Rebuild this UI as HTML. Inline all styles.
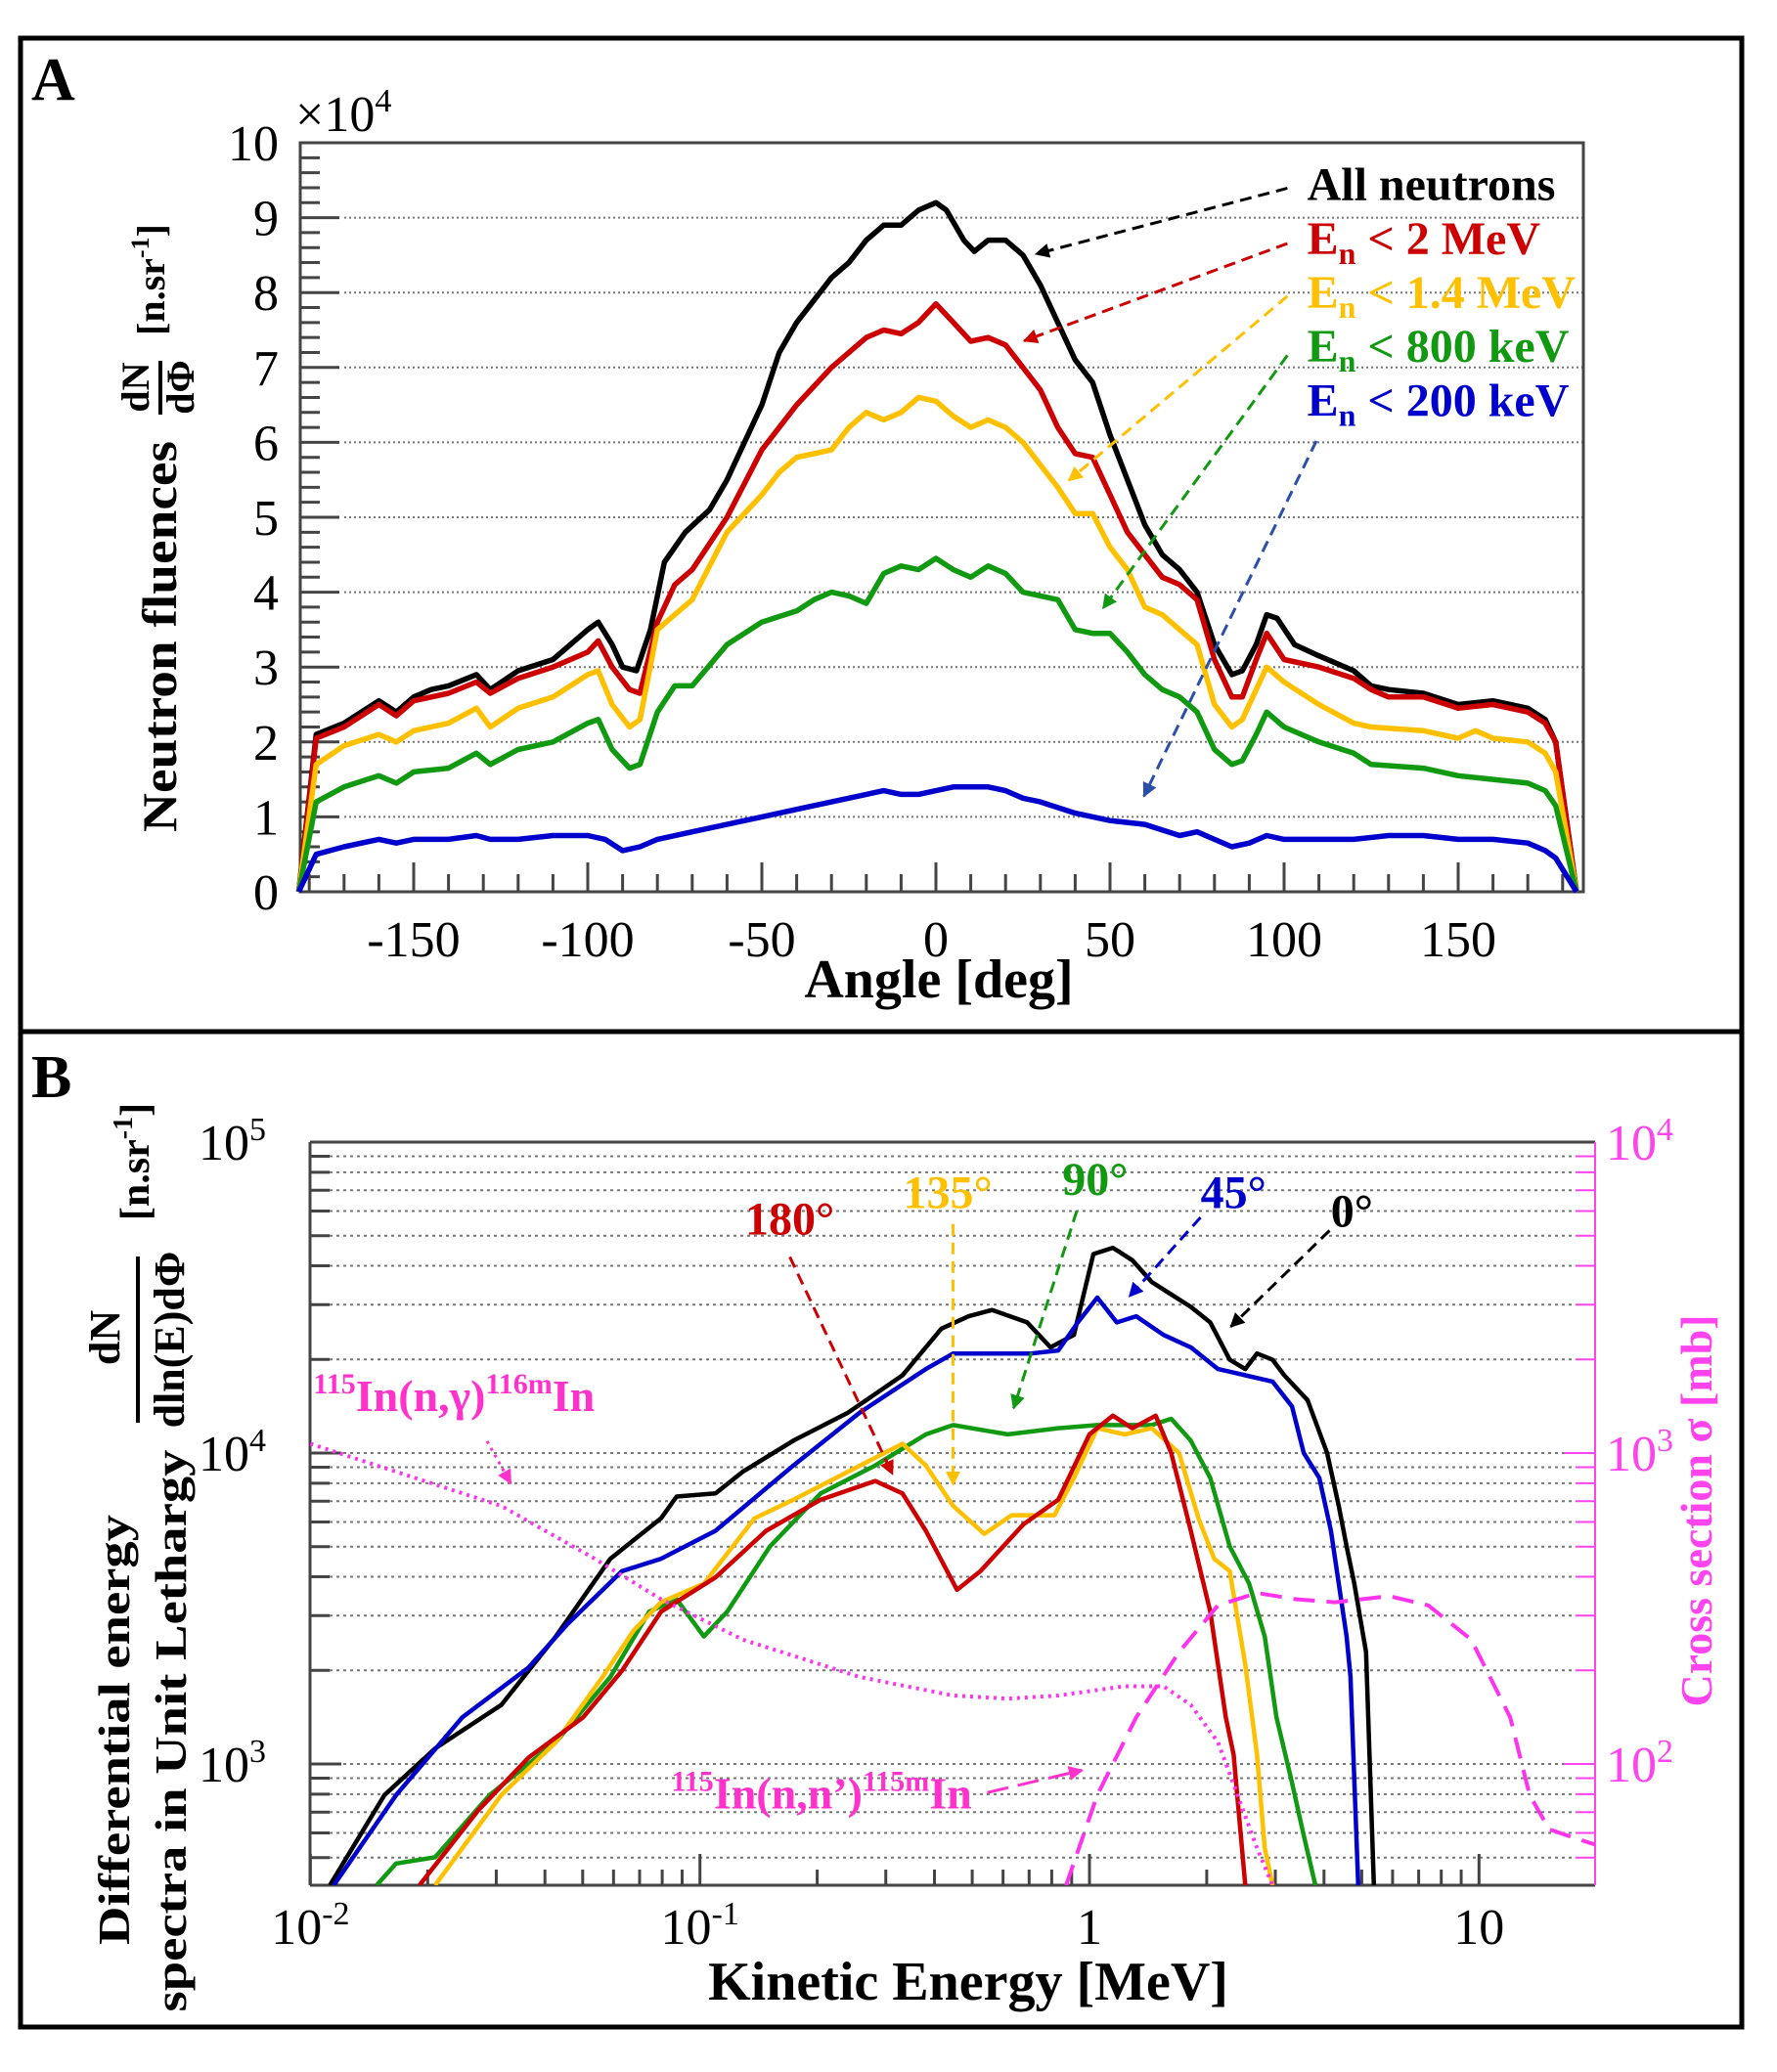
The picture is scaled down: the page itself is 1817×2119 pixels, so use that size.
<!DOCTYPE html>
<html><head><meta charset="utf-8">
<style>
html,body{margin:0;padding:0;background:#fff;}
svg{display:block;font-family:"Liberation Serif",serif;}
</style></head>
<body>
<svg id="fig" width="1817" height="2119" viewBox="0 0 1817 2119" xmlns="http://www.w3.org/2000/svg">
<rect x="0" y="0" width="1817" height="2119" fill="#fff"/>
<rect x="21" y="39" width="1760" height="1016" fill="none" stroke="#000" stroke-width="5"/>
<rect x="21" y="1055" width="1760" height="1018" fill="none" stroke="#000" stroke-width="5"/>
<g id="A"></g>
<g id="B"></g>
</svg>
<script>
// ---------- Panel A data (units of 1e4) ----------
const angBlack=[-183,-178,-170,-160,-155,-150,-145,-140,-132,-128,-120,-110,-100,-97,-93,-90,-86,-82,-78,-72,-65,-60,-50,-45,-40,-35,-30,-25,-20,-15,-10,-5,0,3,8,11,15,20,25,30,35,40,45,50,55,60,65,70,75,80,85,88,92,95,98,103,110,120,125,130,140,150,160,170,175,178,184];
const valBlack=[0,2.1,2.25,2.55,2.4,2.6,2.7,2.75,2.9,2.7,2.95,3.1,3.5,3.6,3.3,3.0,2.95,3.5,4.4,4.8,5.1,5.5,6.5,7.2,7.6,7.9,8.2,8.4,8.7,8.9,8.9,9.1,9.2,9.1,8.7,8.55,8.7,8.7,8.5,8.1,7.6,7.1,6.8,6.1,5.5,4.9,4.5,4.3,4.0,3.3,2.9,2.95,3.3,3.7,3.65,3.3,3.15,2.95,2.75,2.7,2.65,2.5,2.55,2.45,2.3,2.0,0];
const angRed=[-183,-178,-170,-160,-155,-150,-140,-132,-128,-120,-110,-100,-97,-93,-88,-85,-80,-75,-70,-60,-50,-40,-30,-20,-15,-10,-5,0,5,10,15,20,25,30,35,40,45,50,55,60,65,70,75,80,85,88,92,95,100,110,120,125,130,140,150,160,170,175,178,184];
const valRed=[0,2.05,2.2,2.5,2.35,2.55,2.65,2.8,2.65,2.85,3.0,3.2,3.35,3.0,2.7,2.65,3.6,4.1,4.3,5.0,5.9,6.5,7.0,7.4,7.5,7.45,7.6,7.85,7.6,7.35,7.4,7.3,7.0,6.7,6.2,5.85,5.8,5.3,4.8,4.5,4.2,4.1,3.9,3.1,2.6,2.6,3.1,3.45,3.1,3.0,2.85,2.7,2.6,2.6,2.45,2.5,2.4,2.25,2.0,0];
const angYellow=[-183,-178,-170,-160,-155,-150,-140,-132,-128,-120,-110,-100,-97,-93,-88,-85,-80,-75,-70,-60,-50,-45,-40,-35,-30,-25,-20,-15,-10,-5,0,5,10,15,20,25,30,35,40,45,50,55,60,65,70,75,80,85,88,92,95,100,110,120,125,140,150,155,160,170,175,178,184];
const valYellow=[0,1.7,1.95,2.1,2.0,2.15,2.25,2.45,2.2,2.45,2.6,2.9,2.95,2.5,2.2,2.3,3.5,3.7,3.9,4.8,5.3,5.6,5.8,5.85,5.9,6.2,6.4,6.3,6.4,6.6,6.55,6.35,6.2,6.3,6.2,6.0,5.7,5.4,5.05,5.05,4.6,4.3,3.8,3.7,3.5,3.3,2.5,2.2,2.3,2.7,3.0,2.8,2.5,2.25,2.2,2.15,2.05,2.15,2.05,2.0,1.85,1.6,0];
const angGreen=[-183,-178,-170,-160,-155,-150,-140,-132,-128,-120,-110,-100,-97,-93,-88,-85,-80,-75,-70,-60,-50,-40,-35,-30,-25,-20,-15,-10,-5,0,5,10,15,20,25,30,35,40,45,50,55,60,65,70,75,80,85,88,92,95,100,110,120,125,140,150,160,170,175,178,184];
const valGreen=[0,1.2,1.4,1.55,1.45,1.6,1.65,1.85,1.7,1.9,2.0,2.25,2.3,1.9,1.65,1.7,2.4,2.75,2.75,3.3,3.6,3.75,3.9,4.0,3.95,3.85,4.25,4.35,4.3,4.45,4.3,4.2,4.35,4.25,4.0,3.95,3.9,3.5,3.45,3.45,3.2,2.9,2.7,2.6,2.4,1.9,1.7,1.75,2.1,2.4,2.2,2.0,1.85,1.7,1.65,1.55,1.5,1.45,1.35,1.15,0];
const angBlue=[-183,-178,-170,-160,-155,-150,-140,-132,-128,-120,-110,-100,-95,-90,-85,-80,-70,-60,-50,-40,-30,-20,-15,-10,-5,0,5,10,15,20,25,30,40,50,60,70,75,80,85,90,95,100,110,120,130,140,150,160,170,175,178,184];
const valBlue=[0,0.5,0.6,0.7,0.65,0.7,0.7,0.75,0.7,0.7,0.75,0.75,0.7,0.55,0.6,0.7,0.8,0.9,1.0,1.1,1.2,1.3,1.35,1.3,1.3,1.35,1.4,1.4,1.4,1.35,1.25,1.2,1.05,0.95,0.9,0.75,0.8,0.7,0.6,0.65,0.75,0.7,0.7,0.7,0.75,0.75,0.7,0.7,0.65,0.55,0.45,0];
const aXTicks=[-150,-100,-50,0,50,100,150];
const aYTicks=[0,1,2,3,4,5,6,7,8,9,10];

// ---------- Panel B data (log10 E [MeV], log10 value) ----------
const bLogE0=[-1.95,-1.81,-1.68,-1.51,-1.37,-1.23,-1.10,-1.06,-0.96,-0.89,-0.76,-0.62,-0.48,-0.38,-0.31,-0.25,-0.16,-0.10,-0.04,0.01,0.06,0.11,0.16,0.21,0.26,0.31,0.36,0.40,0.43,0.47,0.50,0.56,0.61,0.64,0.66,0.68,0.71,0.73];
const bLogV0=[2.61,2.90,3.05,3.19,3.41,3.66,3.79,3.86,3.87,3.94,4.04,4.13,4.25,4.40,4.44,4.46,4.42,4.34,4.38,4.64,4.66,4.62,4.55,4.51,4.47,4.42,4.30,4.27,4.32,4.30,4.25,4.17,4.00,3.83,3.70,3.58,3.36,2.61];
const bLogE45=[-1.94,-1.78,-1.61,-1.44,-1.34,-1.20,-1.10,-0.96,-0.76,-0.59,-0.42,-0.35,-0.15,-0.08,-0.03,0.02,0.07,0.12,0.19,0.26,0.33,0.40,0.47,0.52,0.55,0.59,0.62,0.66,0.67,0.69];
const bLogV45=[2.61,2.90,3.15,3.31,3.45,3.62,3.66,3.75,3.96,4.13,4.27,4.32,4.32,4.33,4.42,4.50,4.42,4.44,4.38,4.34,4.27,4.25,4.23,4.15,4.00,3.92,3.75,3.41,3.28,2.61];
const bLogE90=[-1.83,-1.78,-1.68,-1.54,-1.37,-1.23,-1.13,-1.06,-0.99,-0.93,-0.82,-0.69,-0.55,-0.42,-0.35,-0.21,-0.08,0.02,0.16,0.21,0.26,0.31,0.36,0.41,0.45,0.48,0.52,0.55,0.58];
const bLogV90=[2.61,2.68,2.70,2.90,3.07,3.28,3.49,3.53,3.41,3.49,3.70,3.87,3.96,4.06,4.09,4.06,4.08,4.09,4.09,4.11,4.04,3.92,3.70,3.58,3.41,3.15,2.94,2.77,2.61];
const bLogE135=[-1.68,-1.51,-1.37,-1.25,-1.17,-1.10,-0.99,-0.86,-0.76,-0.62,-0.48,-0.42,-0.35,-0.27,-0.20,-0.09,-0.04,0.02,0.09,0.16,0.23,0.28,0.32,0.36,0.40,0.43,0.45,0.47];
const bLogV135=[2.61,2.90,3.07,3.28,3.43,3.52,3.58,3.79,3.85,3.94,4.03,3.96,3.83,3.74,3.80,3.80,3.92,4.08,4.06,4.08,4.00,3.79,3.66,3.62,3.32,3.03,2.73,2.61];
const bLogE180=[-1.72,-1.57,-1.44,-1.30,-1.20,-1.10,-0.96,-0.83,-0.69,-0.55,-0.48,-0.42,-0.34,-0.28,-0.17,-0.08,0.00,0.06,0.11,0.17,0.21,0.26,0.31,0.35,0.37,0.40];
const bLogV180=[2.61,2.85,3.02,3.15,3.30,3.49,3.60,3.75,3.85,3.91,3.87,3.75,3.56,3.62,3.77,3.85,4.06,4.12,4.08,4.12,4.00,3.75,3.49,3.15,3.03,2.61];
const xsLogE_ng=[-2.0,-1.78,-1.51,-1.27,-1.10,-0.89,-0.59,-0.35,-0.21,-0.08,0.09,0.19,0.26,0.33,0.38,0.43,0.47];
const xsLogS_ng=[3.03,2.94,2.83,2.66,2.53,2.40,2.28,2.22,2.21,2.22,2.25,2.25,2.19,2.07,1.90,1.73,1.61];
const xsLogE_nn=[-0.06,0.02,0.12,0.23,0.33,0.43,0.53,0.63,0.70,0.77,0.87,0.98,1.08,1.13,1.18,1.25,1.30];
const xsLogS_nn=[1.61,1.90,2.15,2.36,2.51,2.55,2.53,2.52,2.53,2.54,2.51,2.40,2.15,1.90,1.79,1.76,1.74];
const bXDecades=[-2,-1,0,1];
const bXLabels=["10","10","1","10"];
const bXSups=["-2","-1","",""];
const bYDecades=[3,4,5];
const bRDecades=[2,3,4];

const NS="http://www.w3.org/2000/svg";
function mk(parent,tag,attrs,text){const e=document.createElementNS(NS,tag);for(const k in attrs)e.setAttribute(k,attrs[k]);if(text!==undefined)e.textContent=text;parent.appendChild(e);return e;}

// ===== Panel A =====
const A=document.getElementById('A');
const aL=307,aR=1619,aT=146,aB=912;
const ax=a=>957+3.56*a;
const ay=v=>aB-(aB-aT)*v/10;
for(let v=1;v<=9;v++){
 const g=mk(A,'line',{x1:aL+45,x2:aR,y1:ay(v),y2:ay(v),stroke:'#777','stroke-width':2,'stroke-dasharray':'2 3'});
 
 
}
for(let i=0;i<=50;i++){const v=i*0.2;const major=i%5===0;
 const t=mk(A,'line',{x1:aL,x2:aL+(major?40:20),y1:ay(v),y2:ay(v),stroke:'#444','stroke-width':3});
 
 
}
aYTicks.forEach(v=>{
 const t=mk(A,'text',{x:285,y:ay(v)+18,'font-size':52,'text-anchor':'end'},String(v));
 
 
});
for(let a=-180;a<=180;a+=10){const major=a%50===0;
 const t=mk(A,'line',{x1:ax(a),x2:ax(a),y1:aB,y2:aB-(major?30:18),stroke:'#444','stroke-width':3});
 
 
}
aXTicks.forEach(a=>{
 const t=mk(A,'text',{x:ax(a),y:978,'font-size':52,'text-anchor':'middle'},String(a));
 
 
});
mk(A,'rect',{x:aL,y:aT,width:aR-aL,height:aB-aT,fill:'none',stroke:'#444','stroke-width':3,});
const sA=[[angBlack,valBlack,'#000','series-all-neutrons'],[angRed,valRed,'#cc0000','series-en-lt-2mev'],[angYellow,valYellow,'#ffc000','series-en-lt-1-4mev'],[angGreen,valGreen,'#119911','series-en-lt-800kev'],[angBlue,valBlue,'#0000cc','series-en-lt-200kev']];
sA.forEach(([xs,ys,c,n])=>{
 const d=xs.map((a,i)=>(i?'L':'M')+ax(a).toFixed(1)+','+ay(ys[i]).toFixed(1)).join('');
 const p=mk(A,'path',{d,fill:'none',stroke:c,'stroke-width':5.5,'stroke-linejoin':'round'});
 
 
});
const defs=mk(document.getElementById('fig'),'defs',{});
['#000','#cc0000','#ffc000','#119911','#2b4fa8','#0000cc','#ff33cc'].forEach((c,i)=>{
 const m=mk(defs,'marker',{id:'ah'+i,viewBox:'0 0 10 10',refX:9,refY:5,markerWidth:5,markerHeight:5,orient:'auto'});
 mk(m,'path',{d:'M0,0L10,5L0,10z',fill:c});
});
const k=1.346;
function arrow(g,x1,y1,x2,y2,c,mi,name,dash){
 const l=mk(g,'line',{x1:x1*k,y1:y1*k,x2:x2*k,y2:y2*k,stroke:c,'stroke-width':3,'stroke-dasharray':dash||'12 7','marker-end':'url(#ah'+mi+')'});
 
 
}
arrow(A,978,143,787,193,'#000',0,'arrow-all');
arrow(A,978,185,778,259,'#cc0000',1,'arrow-2mev');
arrow(A,978,225,812,365,'#ffc000',2,'arrow-1-4mev');
arrow(A,978,270,838,462,'#119911',3,'arrow-800kev');
arrow(A,1000,335,869,605,'#2b4fa8',4,'arrow-200kev');
function legendText(g,y,c,main,rest,name){
 const t=mk(g,'text',{x:993*k,y:y*k,'font-size':48,'font-weight':'bold',fill:c});
 
 
 if(rest===null){t.textContent=main;return;}
 mk(t,'tspan',{},'E');mk(t,'tspan',{'font-size':32,dy:10},'n');mk(t,'tspan',{dy:-10},' '+rest);
}
legendText(A,152,'#000','All neutrons',null,'legend-all-neutrons');
legendText(A,193,'#cc0000','', '< 2 MeV','legend-en-2mev');
legendText(A,234,'#ffc000','', '< 1.4 MeV','legend-en-1-4mev');
legendText(A,275,'#119911','', '< 800 keV','legend-en-800kev');
legendText(A,316,'#0000cc','', '< 200 keV','legend-en-200kev');
mk(A,'text',{x:32,y:102,'font-size':62,'font-weight':'bold',},'A');
const xm=mk(A,'text',{x:302,y:134,'font-size':52,},'×10');
mk(xm,'tspan',{'font-size':34,dy:-20},'4');
mk(A,'text',{x:960,y:1020,'font-size':56,'font-weight':'bold','text-anchor':'middle',},'Angle [deg]');
const ya=mk(A,'g',{transform:'translate(180,851) rotate(-90)',});
mk(ya,'text',{x:0,y:0,'font-size':50,'font-weight':'bold',textLength:400,lengthAdjust:'spacingAndGlyphs'},'Neutron fluences');
mk(ya,'text',{x:455,y:-28,'font-size':40,'font-weight':'bold','text-anchor':'middle'},'dN');
mk(ya,'line',{x1:427,x2:482,y1:-16,y2:-16,stroke:'#000','stroke-width':4});
mk(ya,'text',{x:455,y:18,'font-size':40,'font-weight':'bold','text-anchor':'middle'},'dΦ');
const ns=mk(ya,'text',{x:508,y:-12,'font-size':40,'font-weight':'bold'},'[n.sr');
mk(ns,'tspan',{'font-size':26,dy:-16},'-1');mk(ns,'tspan',{dy:16},']');

// ===== Panel B =====
const B=document.getElementById('B');
const bL=317,bR=1631,bT=1168,bB=1928;
const bx=le=>1114+398.3*le;
const by=lv=>1486-318*(lv-4);
const bry=ls=>1168-318*(ls-4);
for(let d=2;d<=4;d++){for(let m=1;m<=9;m++){const lv=d+Math.log10(m);const y=by(lv);if(y<bT-1||y>bB)continue;
 const g=mk(B,'line',{x1:bL+20,x2:bR-20,y1:y,y2:y,stroke:'#777','stroke-width':2,'stroke-dasharray':'3 4'});
 
 
 const t=mk(B,'line',{x1:bL,x2:bL+(m===1?32:20),y1:y,y2:y,stroke:'#444','stroke-width':3});
 
 
 const r=mk(B,'line',{x1:bR,x2:bR-(m===1?32:20),y1:y,y2:y,stroke:'#ff44ee','stroke-width':2});
 
 
}}
for(let d=-2;d<=1;d++){for(let m=1;m<=9;m++){const le=d+Math.log10(m);const x=bx(le);if(x>bR)continue;
 const t=mk(B,'line',{x1:x,x2:x,y1:bB,y2:bB-(m===1?32:16),stroke:'#444','stroke-width':3});
 
 
}}
bXDecades.forEach((d,i)=>{
 const t=mk(B,'text',{x:bx(d),y:1988,'font-size':52,'text-anchor':'middle'},bXLabels[i]);
 
 
 if(bXSups[i])mk(t,'tspan',{'font-size':34,dy:-20},bXSups[i]);
});
bYDecades.forEach(d=>{
 const t=mk(B,'text',{x:272,y:by(d)+18,'font-size':52,'text-anchor':'end'},'10');
 
 
 mk(t,'tspan',{'font-size':34,dy:-20},String(d));
});
bRDecades.forEach(d=>{
 const t=mk(B,'text',{x:1642,y:bry(d)+18,'font-size':52,fill:'#ff44ee'},'10');
 
 
 mk(t,'tspan',{'font-size':34,dy:-20},String(d));
});
mk(B,'line',{x1:bL,y1:bT,x2:bR,y2:bT,stroke:'#444','stroke-width':3});
mk(B,'line',{x1:bL,y1:bT,x2:bL,y2:bB,stroke:'#444','stroke-width':3});
mk(B,'line',{x1:bL,y1:bB,x2:bR,y2:bB,stroke:'#444','stroke-width':3});
mk(B,'line',{x1:bR,y1:bT,x2:bR,y2:bB,stroke:'#ff44ee','stroke-width':2,});
mk(defs,'clipPath',{id:'clipB'});
mk(document.getElementById('clipB'),'rect',{x:bL,y:bT,width:bR-bL,height:bB-bT});
const sB=[[bLogE0,bLogV0,'#000','series-0deg'],[bLogE45,bLogV45,'#0000cc','series-45deg'],[bLogE90,bLogV90,'#119911','series-90deg'],[bLogE135,bLogV135,'#ffc000','series-135deg'],[bLogE180,bLogV180,'#cc0000','series-180deg']];
sB.forEach(([xs,ys,c,n])=>{
 const d=xs.map((a,i)=>(i?'L':'M')+bx(a).toFixed(1)+','+by(ys[i]).toFixed(1)).join('');
 const p=mk(B,'path',{d,fill:'none',stroke:c,'stroke-width':4.5,'stroke-linejoin':'round','clip-path':'url(#clipB)'});
 
 
});
[[xsLogE_ng,xsLogS_ng,'3 5','xs-n-gamma'],[xsLogE_nn,xsLogS_nn,'22 12','xs-n-nprime']].forEach(([xs,ys,da,n])=>{
 const d=xs.map((a,i)=>(i?'L':'M')+bx(a).toFixed(1)+','+bry(ys[i]).toFixed(1)).join('');
 const p=mk(B,'path',{d,fill:'none',stroke:'#ff33ee','stroke-width':4,'stroke-dasharray':da,'clip-path':'url(#clipB)'});
 
 
});
function lbl(x,y,txt,c,name){const t=mk(B,'text',{x:x*k,y:y*k,'font-size':48,'font-weight':'bold',fill:c,'text-anchor':'middle'},txt);
 }
lbl(600,938,'180°','#cc0000','label-180deg');
lbl(720,918,'135°','#ffc000','label-135deg');
lbl(832,908,'90°','#119911','label-90deg');
lbl(937,918,'45°','#0000cc','label-45deg');
lbl(1027,932,'0°','#000','label-0deg');
arrow(B,600,955,678,1120,'#cc0000',1,'arrow-180deg');
arrow(B,724,930,724,1128,'#ffc000',2,'arrow-135deg');
arrow(B,818,920,770,1070,'#119911',3,'arrow-90deg');
arrow(B,912,925,858,985,'#0000cc',5,'arrow-45deg');
arrow(B,1010,935,935,1008,'#000',0,'arrow-0deg');
arrow(B,370,1095,388,1127,'#ff33cc',6,'arrow-n-gamma','3 5');
arrow(B,750,1362,822,1345,'#ff33cc',6,'arrow-n-nprime','22 10');
const ng=mk(B,'text',{x:238*k,y:1072*k,'font-size':46,'font-weight':'bold',fill:'#ff33cc',});
mk(ng,'tspan',{'font-size':30,dy:-18},'115');mk(ng,'tspan',{dy:18},'In(n,γ)');mk(ng,'tspan',{'font-size':30,dy:-18},'116m');mk(ng,'tspan',{dy:18},'In');
const nn=mk(B,'text',{x:510*k,y:1374*k,'font-size':46,'font-weight':'bold',fill:'#ff33cc',});
mk(nn,'tspan',{'font-size':30,dy:-18},'115');mk(nn,'tspan',{dy:18},'In(n,n’)');mk(nn,'tspan',{'font-size':30,dy:-18},'115m');mk(nn,'tspan',{dy:18},'In');
mk(B,'text',{x:32,y:1122,'font-size':62,'font-weight':'bold',},'B');
mk(B,'text',{x:990,y:2045,'font-size':56,'font-weight':'bold','text-anchor':'middle',},'Kinetic Energy [MeV]');
mk(B,'text',{transform:'translate(1750,1545) rotate(-90)','font-size':46,'font-weight':'bold',fill:'#ff44ee','text-anchor':'middle',},'Cross section σ [mb]');
const yb=mk(B,'g',{});
mk(yb,'text',{transform:'translate(132,1769) rotate(-90)','font-size':46,'font-weight':'bold','text-anchor':'middle',textLength:440,lengthAdjust:'spacingAndGlyphs'},'Differential energy');
mk(yb,'text',{transform:'translate(190,1770) rotate(-90)','font-size':46,'font-weight':'bold','text-anchor':'middle',textLength:575,lengthAdjust:'spacingAndGlyphs'},'spectra in Unit Lethargy');
mk(yb,'text',{transform:'translate(122,1368) rotate(-90)','font-size':44,'font-weight':'bold','text-anchor':'middle'},'dN');
mk(yb,'line',{x1:141,x2:141,y1:1285,y2:1455,stroke:'#000','stroke-width':4});
mk(yb,'text',{transform:'translate(188,1370) rotate(-90)','font-size':44,'font-weight':'bold','text-anchor':'middle'},'dln(E)dΦ');
const nb=mk(yb,'text',{transform:'translate(152,1188) rotate(-90)','font-size':42,'font-weight':'bold','text-anchor':'middle'},'[n.sr');
mk(nb,'tspan',{'font-size':28,dy:-17},'-1');mk(nb,'tspan',{dy:17},']');
</script>
</body></html>
